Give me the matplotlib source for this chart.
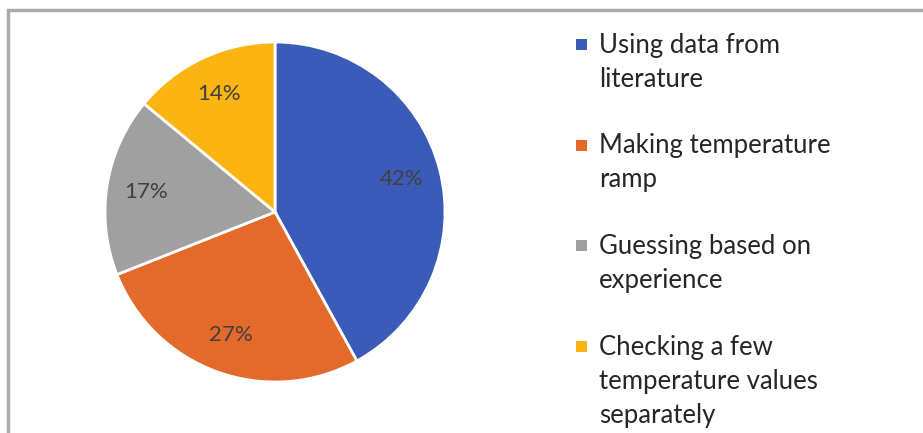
import matplotlib.pyplot as plt
from matplotlib.patches import Rectangle

# chart data
labels = ['Using data from\nliterature', 'Making temperature\nramp',
          'Guessing based on\nexperience', 'Checking a few\ntemperature values\nseparately']
shares = [42, 27, 17, 14]
colors = ['#3A5BB8', '#E36A2A', '#A0A0A0', '#FBB412']

plt.rcParams['font.family'] = ['Lato', 'DejaVu Sans']

W, H = 923, 433
fig = plt.figure(figsize=(W / 100, H / 100), dpi=100)

# outer chart border (runs off right and bottom edge)
fig.patches.append(Rectangle((8 / W, -0.1), 1.2, (H - 10) / H + 0.1, transform=fig.transFigure,
                             fill=False, edgecolor='#ABABAB', linewidth=2.5))

# pie axes in pixel geometry: center (275, 212), radius 170
cx, cy, r = 275, 212, 170
ax = fig.add_axes([(cx - r) / W, (H - cy - r) / H, 2 * r / W, 2 * r / H])
wedges, _, autotexts = ax.pie(shares, colors=colors, startangle=90, counterclock=False,
                              autopct='%1.0f%%', pctdistance=0.77,
                              wedgeprops=dict(edgecolor='white', linewidth=2),
                              textprops=dict(color='#404040', fontsize=16))
ax.set_aspect('equal')
ax.set_xlim(-1, 1)
ax.set_ylim(-1, 1)
ax.axis('off')

# legend, drawn by hand to match the wrapped layout
for i, (lab, col) in enumerate(zip(labels, colors)):
    ymid = 45 + 100.5 * i
    fig.patches.append(Rectangle((576 / W, (H - ymid - 5) / H), 11 / W, 11 / H,
                                 transform=fig.transFigure, facecolor=col, edgecolor='none'))
    fig.text(599 / W, (H - ymid + 12) / H, lab, fontsize=18.5, color='#262626',
             va='top', ha='left', linespacing=1.45)

fig.savefig('out.png', dpi=100)
